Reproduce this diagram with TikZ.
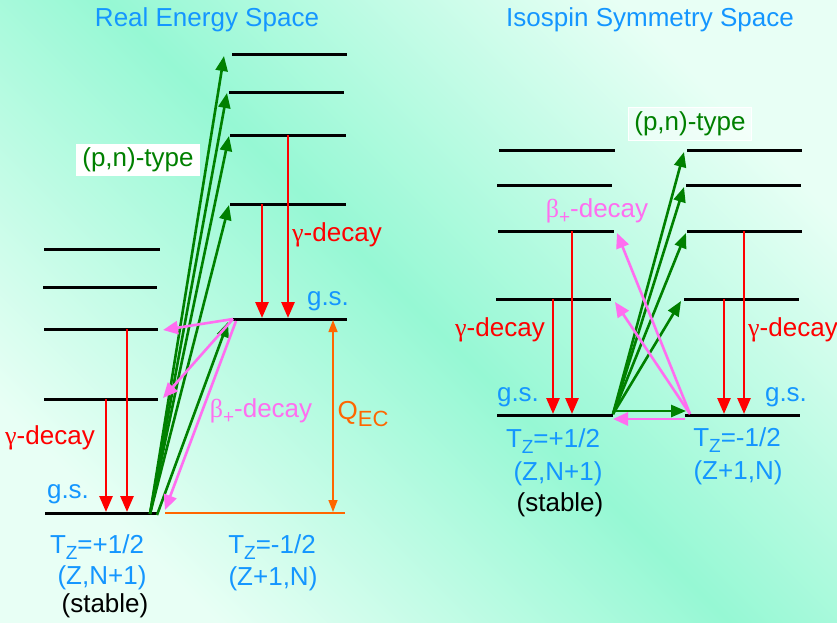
\documentclass[tikz,border=0pt]{standalone}
\usepackage{fontspec}
\setmainfont{Liberation Sans}
\newfontfamily\grk{Liberation Serif}
\usetikzlibrary{arrows.meta}
\definecolor{bgm}{RGB}{150,248,212}
\definecolor{bgl}{RGB}{232,255,245}
\definecolor{tblue}{RGB}{20,150,255}
\definecolor{pngreen}{RGB}{0,128,0}
\definecolor{bpink}{RGB}{255,110,240}
\definecolor{qorange}{RGB}{255,102,0}
\newcommand{\mysub}[2][19]{\raisebox{-0.25em}{\fontsize{#1}{#1}\selectfont #2}}
\tikzset{
  lvl/.style={line width=3pt, black},
  gam/.style={red, line width=2.7pt, -{Triangle[length=16pt,width=13pt]}},
  pnarr/.style={pngreen, line width=2.6pt, -{Triangle[length=15pt,width=12pt]}},
  betarr/.style={bpink, line width=2.6pt, -{Triangle[length=15pt,width=13pt]}},
  qarr/.style={qorange, line width=1.4pt, {Triangle[length=12pt,width=9pt]}-{Triangle[length=12pt,width=9pt]}},
  lbl/.style={font=\fontsize{26}{28}\selectfont, inner sep=0pt},
  blu/.style={lbl, text=tblue},
  pnbox/.style={lbl, text=pngreen, fill=white, inner xsep=6pt, inner ysep=4pt},
}
\begin{document}
\begin{tikzpicture}[x=1pt,y=-1pt]
\shade[left color=bgl,right color=bgl,middle color=bgm,shading angle=-45] (0,0) rectangle (837,622);
\useasboundingbox (0,0) rectangle (837,622);

% ---------- levels ----------
\foreach \n/\xa/\xb/\y in {
  la4/44/160/249, la3/43/157/287, la2/44/158/329, la1/44/158/399, la0/45/157/513,
  ra4/232/347/54, ra3/229/344/92, ra2/230/346/135, ra1/230/346/204, ra0/233/347/319,
  lb4/499/615/150, lb3/497/612/185, lb2/498/614/231, lb1/496/611/299, lb0/497/613/415,
  rb4/687/802/150, rb3/686/801/185, rb2/687/802/231, rb1/684/799/299, rb0/685/800/415}
{
  \coordinate (\n w) at (\xa,\y);
  \coordinate (\n e) at (\xb,\y);
  \draw[lvl] (\n w) -- (\n e);
}

% ---------- Real energy space ----------
% gamma decays
\coordinate (gA1) at (127,329); \coordinate (gA1t) at (127,512);
\coordinate (gA2) at (106,399); \coordinate (gA2t) at (106,512);
\coordinate (gA3) at (262,204); \coordinate (gA3t) at (262,318);
\coordinate (gA4) at (288,135); \coordinate (gA4t) at (288,318);
\draw[gam] (gA1) -- (gA1t);
\draw[gam] (gA2) -- (gA2t);
\draw[gam] (gA3) -- (gA3t);
\draw[gam] (gA4) -- (gA4t);

% (p,n) transitions
\coordinate (pnA) at (150,514);
\coordinate (pnA5) at (157,515);
\coordinate (pnA1t) at (224,56);
\coordinate (pnA2t) at (227,93);
\coordinate (pnA3t) at (229,136);
\coordinate (pnA4t) at (229,205);
\coordinate (pnA5t) at (228,322);
\draw[pnarr] (pnA) -- (pnA1t);
\draw[pnarr] (pnA) -- (pnA2t);
\draw[pnarr] (pnA) -- (pnA3t);
\draw[pnarr] (pnA) -- (pnA4t);
\draw[pnarr] (pnA5) -- (pnA5t);

% beta+ decays
\coordinate (bA) at (233,319);
\coordinate (bA3) at (236,321);
\coordinate (bA1t) at (163,330);
\coordinate (bA2t) at (163,398);
\coordinate (bA3t) at (165,510);
\draw[betarr] (bA) -- (bA1t);
\draw[betarr] (bA) -- (bA2t);
\draw[betarr] (bA3) -- (bA3t);

% Q_EC
\coordinate (qa) at (165,513); \coordinate (qb) at (345,513);
\coordinate (qt) at (333,320); \coordinate (qbt) at (333,512);
\draw[qorange, line width=1.2pt] (qa) -- (qb);
\draw[qarr] (qt) -- (qbt);

% ---------- Isospin symmetry space ----------
\coordinate (gB1) at (553,299); \coordinate (gB1t) at (553,414);
\coordinate (gB2) at (572,231); \coordinate (gB2t) at (572,414);
\coordinate (gB3) at (724,299); \coordinate (gB3t) at (724,414);
\coordinate (gB4) at (744,231); \coordinate (gB4t) at (744,414);
\draw[gam] (gB1) -- (gB1t);
\draw[gam] (gB2) -- (gB2t);
\draw[gam] (gB3) -- (gB3t);
\draw[gam] (gB4) -- (gB4t);

\coordinate (pnB) at (613,414);
\coordinate (pnB1t) at (684,152);
\coordinate (pnB2t) at (684,187);
\coordinate (pnB3t) at (686,233);
\coordinate (pnB4t) at (681,301);
\coordinate (pnBh) at (613,411); \coordinate (pnBht) at (686,411);
\draw[pnarr] (pnB) -- (pnB1t);
\draw[pnarr] (pnB) -- (pnB2t);
\draw[pnarr] (pnB) -- (pnB3t);
\draw[pnarr] (pnB) -- (pnB4t);
\draw[pnarr] (pnBh) -- (pnBht);

\coordinate (bB) at (690,414);
\coordinate (bB1t) at (617,233);
\coordinate (bB2t) at (615,302);
\coordinate (bBh) at (685,419); \coordinate (bBht) at (613,419);
\draw[betarr] (bB) -- (bB1t);
\draw[betarr] (bB) -- (bB2t);
\draw[betarr] (bBh) -- (bBht);

% ---------- labels ----------
\node[blu] (t1) at (207,20) {Real Energy Space};
\node[blu] (t2) at (650,20) {Isospin Symmetry Space};

\node[pnbox] (pnl1) at (138,160) {(p,n)-type};
\node[pnbox, fill opacity=0.5, text opacity=1, draw=white, line width=1.2pt] (pnl2) at (690,124) {(p,n)-type};

\node[lbl, text=red] (gl1) at (337,235) {{\grk γ}-decay};
\node[lbl, text=red] (gl2) at (50,438) {{\grk γ}-decay};
\node[lbl, text=red] (gl3) at (500,330) {{\grk γ}-decay};
\node[lbl, text=red] (gl4) at (793,330) {{\grk γ}-decay};

\node[lbl, text=bpink] (bl1) at (261,411) {{\grk β}\mysub{+}-decay};
\node[lbl, text=bpink] (bl2) at (597,211) {{\grk β}\mysub{+}-decay};

\node[lbl, text=qorange] (ql) at (363,414) {Q\mysub[22]{EC}};

\node[blu] (gs1) at (328,301) {g.s.};
\node[blu] (gs2) at (68,494) {g.s.};
\node[blu] (gs3) at (518,397) {g.s.};
\node[blu] (gs4) at (786,397) {g.s.};

\node[blu] (tz1) at (97,547) {T\mysub{Z}=+1/2};
\node[blu] (zn1) at (102,578) {(Z,N+1)};
\node[lbl] (st1) at (105,606) {(stable)};
\node[blu] (tz2) at (272,547) {T\mysub{Z}=-1/2};
\node[blu] (zn2) at (273,579) {(Z+1,N)};

\node[blu] (tz3) at (553,441) {T\mysub{Z}=+1/2};
\node[blu] (zn3) at (558,474) {(Z,N+1)};
\node[lbl] (st3) at (560,505) {(stable)};
\node[blu] (tz4) at (737,440) {T\mysub{Z}=-1/2};
\node[blu] (zn4) at (738,473) {(Z+1,N)};
\end{tikzpicture}
\end{document}
